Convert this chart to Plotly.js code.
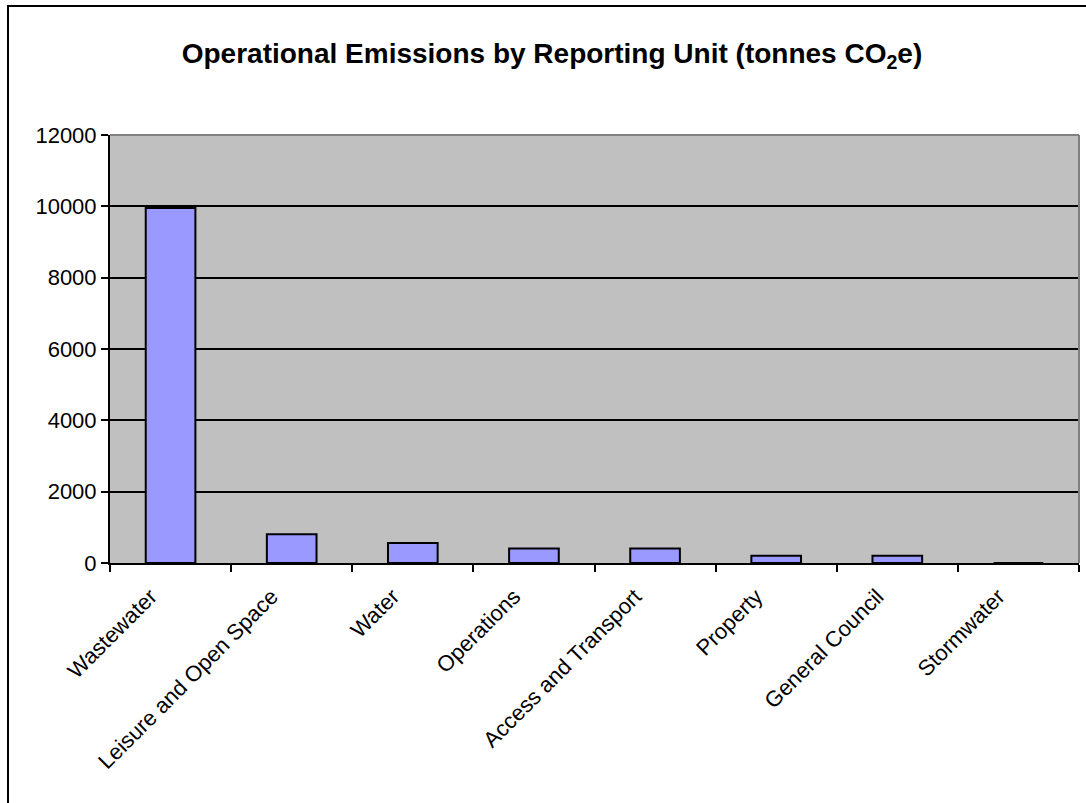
<!DOCTYPE html>
<html>
<head>
<meta charset="utf-8">
<script src="https://cdn.plot.ly/plotly-3.0.1.min.js"></script>
<style>
html,body{margin:0;padding:0;background:#fff;}
#chart{width:1086px;height:803px;}
</style>
</head>
<body>
<div id="chart"></div>
<script>
const categories = ["Wastewater", "Leisure and Open Space", "Water", "Operations", "Access and Transport", "Property", "General Council", "Stormwater"];
const emissions = [9950, 805, 560, 405, 405, 200, 200, 0];
const yTicks = [0, 2000, 4000, 6000, 8000, 10000, 12000];

const trace = {
  type: "bar",
  x: categories,
  y: emissions,
  marker: {color: "#9999FF", line: {color: "#000000", width: 2}},
  hoverinfo: "x+y"
};

const W = 1086, H = 803;
const mL = 110, mR = 7, mT = 135, mB = 240;
const pw = W - mL - mR, ph = H - mT - mB;
function px(x){ return (x - mL) / pw; }
function py(y){ return (H - mB - y) / ph; }
const FONT = "Arial, 'Liberation Sans', sans-serif";

const layout = {
  width: W, height: H,
  margin: {l: mL, r: mR, t: mT, b: mB, pad: 0},
  paper_bgcolor: "#FFFFFF",
  plot_bgcolor: "#C0C0C0",
  showlegend: false,
  bargap: 0.59,
  font: {family: FONT, color: "#000000", size: 22},
  title: {
    text: "<b>Operational Emissions by Reporting Unit (tonnes CO<sub>2</sub>e)</b>",
    font: {family: FONT, size: 28, color: "#000000"},
    x: 552 / W, xref: "container", xanchor: "center",
    y: 1 - 53 / H, yref: "container", yanchor: "middle"
  },
  xaxis: {
    type: "category",
    tickson: "boundaries",
    ticks: "outside", ticklen: 7, tickwidth: 2, tickcolor: "#000000",
    showline: true, linecolor: "#000000", linewidth: 2,
    showgrid: false,
    tickangle: -45,
    ticklabelshift: -20,
    ticklabelstandoff: 10,
    tickfont: {size: 22, family: FONT},
    automargin: false
  },
  yaxis: {
    range: [0, 12000],
    tickvals: yTicks,
    ticktext: yTicks.map(String),
    ticks: "outside", ticklen: 7, tickwidth: 2, tickcolor: "#000000",
    showline: true, linecolor: "#000000", linewidth: 2,
    showgrid: true, gridcolor: "#000000", gridwidth: 2,
    zeroline: false,
    tickfont: {size: 22, family: FONT},
    automargin: false
  },
  shapes: [
    {type: "line", xref: "paper", yref: "paper", x0: 0, x1: 1, y0: 1, y1: 1, line: {color: "#808080", width: 2}},
    {type: "line", xref: "paper", yref: "paper", x0: 1, x1: 1, y0: 0, y1: 1, line: {color: "#808080", width: 2}},
    {type: "rect", xref: "paper", yref: "paper", x0: px(8), x1: px(1100), y0: py(820), y1: py(6), line: {color: "#000000", width: 2}, fillcolor: "rgba(0,0,0,0)"}
  ]
};

Plotly.newPlot("chart", [trace], layout, {displayModeBar: false, staticPlot: true});
</script>
</body>
</html>
